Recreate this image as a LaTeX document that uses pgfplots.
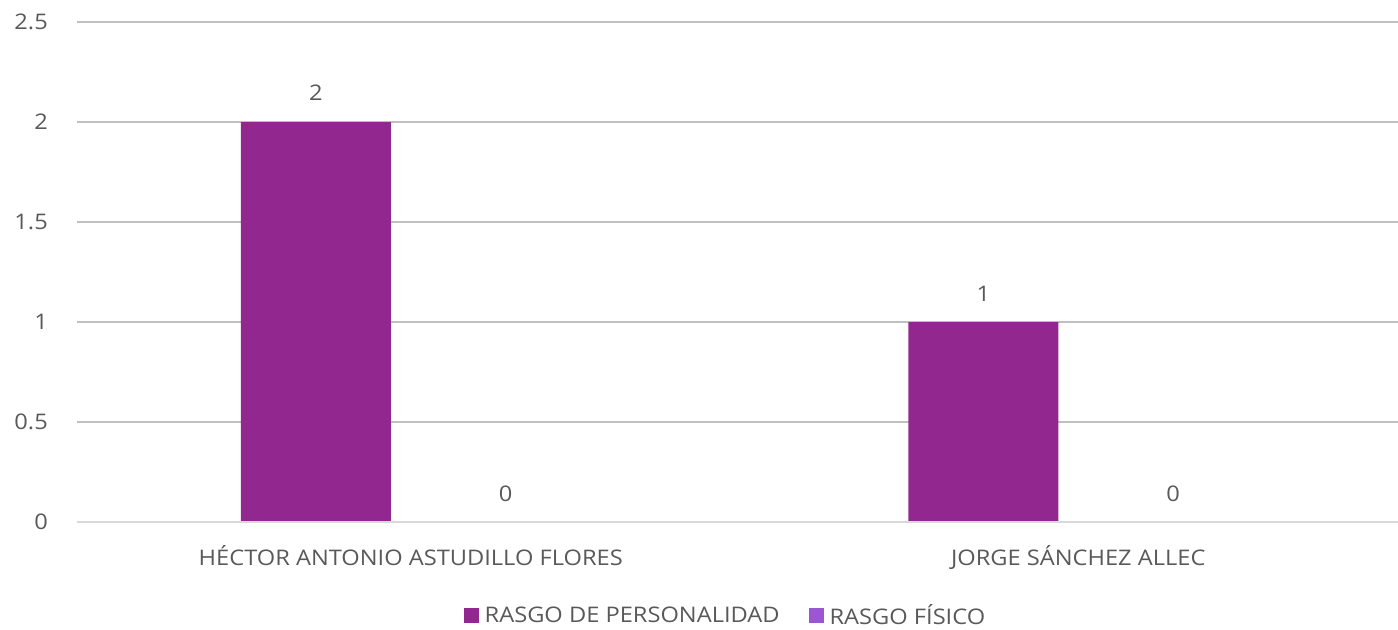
\documentclass[border=0pt]{standalone}
\usepackage{pgfplots}
\pgfplotsset{compat=1.18}
\usepackage{fontspec}
\setmainfont{Open Sans}[FakeStretch=1.1]
\definecolor{barA}{HTML}{92278F}
\definecolor{barB}{HTML}{9B57D3}
\definecolor{txt}{HTML}{595959}
\definecolor{grid}{HTML}{D9D9D9}
\begin{document}
\begin{tikzpicture}
\begin{axis}[
  name=ax,
  scale only axis,
  width=1321bp, height=500bp,
  xmin=-0.5, xmax=1.479,
  ymin=0, ymax=2.5,
  /pgf/number format/assume math mode=true,
  font=\fontsize{21.5bp}{25bp}\selectfont\color{txt},
  axis line style={draw=none},
  ytick={0,0.5,1,1.5,2,2.5},
  yticklabels={0,0.5,1,1.5,2,2.5},
  ymajorgrids=true,
  xmajorgrids=false,
  grid style={grid, line width=1.5bp},
  major tick length=0pt,
  xtick={0,1},
  xticklabels={HÉCTOR ANTONIO ASTUDILLO FLORES, JORGE SÁNCHEZ ALLEC},
  xticklabel style={anchor=base, yshift=-43bp, text=txt},
  yticklabel style={anchor=east, xshift=-29bp, inner sep=0pt, text=txt},
  ybar,
  bar width=0.2246,
  nodes near coords,
  every node near coord/.append style={anchor=base, yshift=21bp, text=txt, font=\fontsize{21.5bp}{25bp}\selectfont},
  legend columns=2,
  legend style={draw=none, fill=none, inner sep=0pt, at={(0.4905,-0.187)}, anchor=center,
    font=\fontsize{21.5bp}{25bp}\selectfont, text=txt,
    nodes={inner sep=1bp},
    /tikz/every even column/.append style={column sep=28bp}},
  legend image code/.code={\fill[#1] (0bp,-7.5bp) rectangle (15bp,7.5bp);},
  clip=false,
]
\addplot[fill=barA, draw=none, bar shift=-0.1422] coordinates {(0,2) (1,1)};
\addplot[fill=barB, draw=none, bar shift=0.1422] coordinates {(0,0) (1,0)};
\legend{\hspace{5bp}RASGO DE PERSONALIDAD, \hspace{5bp}RASGO FÍSICO}
\draw[grid, line width=1.5bp] (rel axis cs:0,0) -- (rel axis cs:1,0);
\end{axis}
\pgfresetboundingbox
\path[use as bounding box] ([xshift=-77bp, yshift=-107bp]ax.south west) rectangle ([yshift=22bp]ax.north east);
\end{tikzpicture}
\end{document}
